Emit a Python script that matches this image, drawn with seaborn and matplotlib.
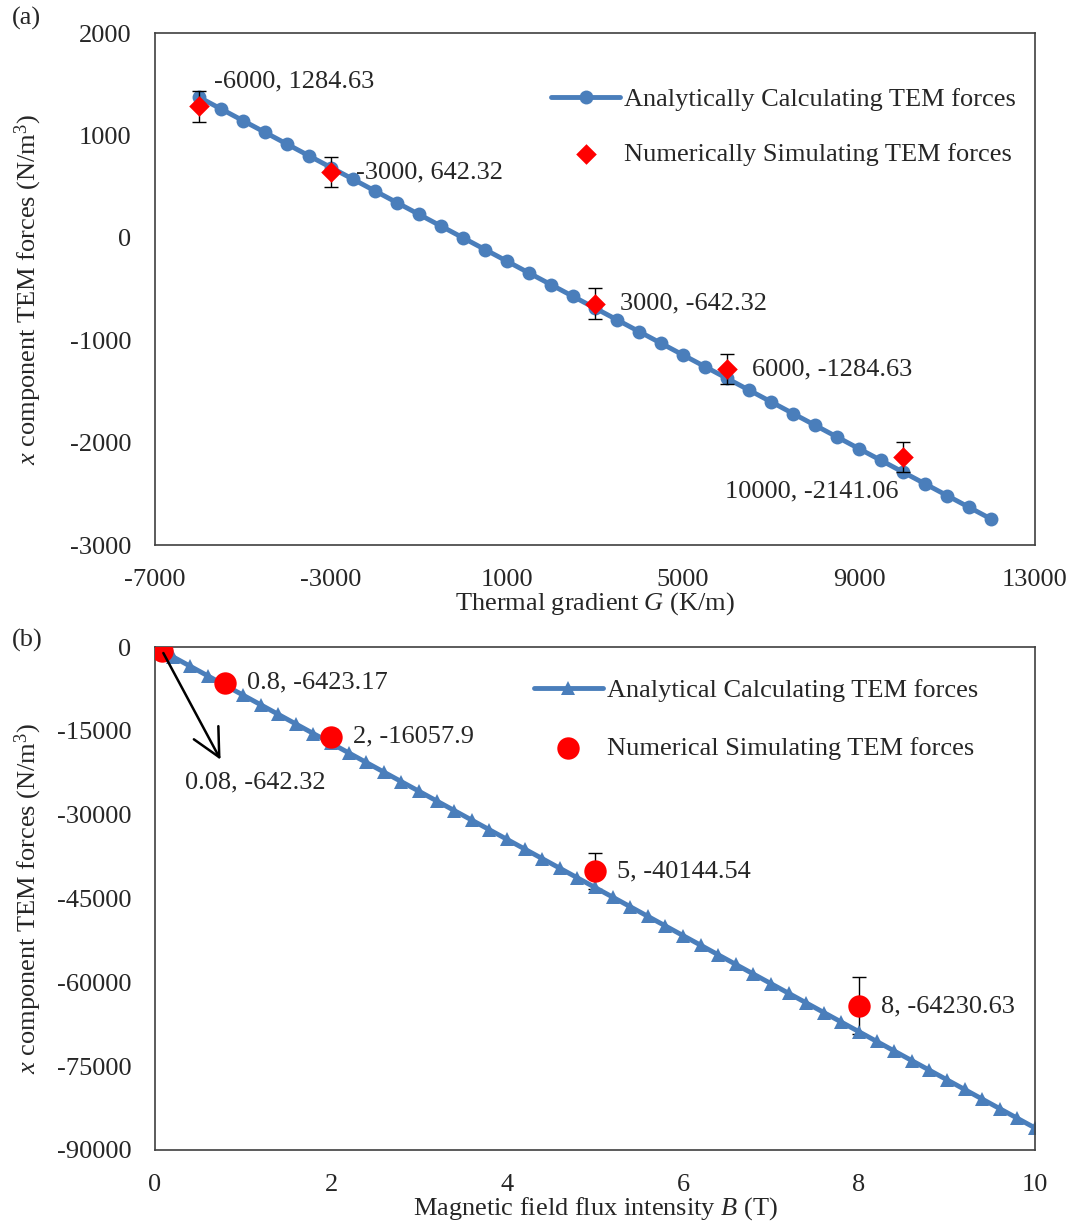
import matplotlib
matplotlib.use("Agg")
import matplotlib.pyplot as plt
import pandas as pd
import seaborn as sns

# panel (a): thermal gradient sweep
grad_analytic = [-6000, -5500, -5000, -4500, -4000, -3500, -3000, -2500, -2000, -1500,
                 -1000, -500, 0, 500, 1000, 1500, 2000, 2500, 3000, 3500, 4000, 4500,
                 5000, 5500, 6000, 6500, 7000, 7500, 8000, 8500, 9000, 9500, 10000,
                 10500, 11000, 11500, 12000]
force_a_analytic = [1372.8, 1258.4, 1144.0, 1029.6, 915.2, 800.8, 686.4, 572.0, 457.6,
                    343.2, 228.8, 114.4, 0.0, -114.4, -228.8, -343.2, -457.6, -572.0,
                    -686.4, -800.8, -915.2, -1029.6, -1144.0, -1258.4, -1372.8, -1487.2,
                    -1601.6, -1716.0, -1830.4, -1944.8, -2059.2, -2173.6, -2288.0,
                    -2402.4, -2516.8, -2631.2, -2745.6]
grad_numeric = [-6000, -3000, 3000, 6000, 10000]
force_a_numeric = [1284.63, 642.32, -642.32, -1284.63, -2141.06]
err_a = [150, 150, 150, 145, 145]
labels_a = ["-6000, 1284.63", "-3000, 642.32", "3000, -642.32", "6000, -1284.63",
            "10000, -2141.06"]

# panel (b): magnetic field sweep
field_analytic = [0.0, 0.2, 0.4, 0.6, 0.8, 1.0, 1.2, 1.4, 1.6, 1.8, 2.0, 2.2, 2.4, 2.6,
                  2.8, 3.0, 3.2, 3.4, 3.6, 3.8, 4.0, 4.2, 4.4, 4.6, 4.8, 5.0, 5.2, 5.4,
                  5.6, 5.8, 6.0, 6.2, 6.4, 6.6, 6.8, 7.0, 7.2, 7.4, 7.6, 7.8, 8.0, 8.2,
                  8.4, 8.6, 8.8, 9.0, 9.2, 9.4, 9.6, 9.8, 10.0]
force_b_analytic = [0, -1721, -3442, -5163, -6884, -8605, -10326, -12047, -13768, -15489,
                    -17210, -18931, -20652, -22373, -24094, -25815, -27536, -29257,
                    -30978, -32699, -34420, -36141, -37862, -39583, -41304, -43025,
                    -44746, -46467, -48188, -49909, -51630, -53351, -55072, -56793,
                    -58514, -60235, -61956, -63677, -65398, -67119, -68840, -70561,
                    -72282, -74003, -75724, -77445, -79166, -80887, -82608, -84329,
                    -86050]
field_numeric = [0.08, 0.8, 2, 5, 8]
force_b_numeric = [-642.32, -6423.17, -16057.9, -40144.54, -64230.63]
err_b = [50, 500, 1300, 3200, 5100]
labels_b = ["0.08, -642.32", "0.8, -6423.17", "2, -16057.9", "5, -40144.54",
            "8, -64230.63"]

BLUE = "#4A7EBB"
RED = "#FF0000"
EDGE = "#404040"

sns.set_theme(style="white")
plt.rcParams["font.family"] = ["Liberation Serif", "DejaVu Serif"]
plt.rcParams["mathtext.fontset"] = "custom"
plt.rcParams["mathtext.rm"] = "Liberation Serif"
plt.rcParams["mathtext.it"] = "Liberation Serif:italic"
plt.rcParams["axes.unicode_minus"] = False

FS = 19

fig = plt.figure(figsize=(10.7, 12.26), dpi=100)
ax_a = fig.add_axes([155 / 1070, 1 - 545 / 1226, 880 / 1070, 512 / 1226])
ax_b = fig.add_axes([155 / 1070, 1 - 1150 / 1226, 880 / 1070, 503 / 1226])

df_a = pd.DataFrame({"G": grad_analytic, "F": force_a_analytic})
df_an = pd.DataFrame({"G": grad_numeric, "F": force_a_numeric})
df_b = pd.DataFrame({"B": field_analytic, "F": force_b_analytic})
df_bn = pd.DataFrame({"B": field_numeric, "F": force_b_numeric})

# ---- panel (a)
sns.lineplot(data=df_a, x="G", y="F", ax=ax_a, color=BLUE, lw=3.5, marker="o",
             markersize=10, markeredgewidth=0, label="Analytically Calculating TEM forces",
             zorder=2)
ax_a.errorbar(grad_numeric, force_a_numeric, yerr=err_a, fmt="none", ecolor="black",
              elinewidth=1, capsize=5, capthick=1, zorder=3)
sns.scatterplot(data=df_an, x="G", y="F", ax=ax_a, color=RED, marker="D", s=110,
                linewidth=0, label="Numerically Simulating TEM forces", zorder=4)

offsets_a = [(15, 25, "left"), (25, 0, "left"), (25, 0, "left"), (25, 0, "left"),
             (-5, -34, "right")]
for x, y, txt, (dx, dy, ha) in zip(grad_numeric, force_a_numeric, labels_a, offsets_a):
    ax_a.annotate(txt, (x, y), xytext=(dx, dy), textcoords="offset pixels",
                  ha=ha, va="center", fontsize=FS)

ax_a.set_xlim(-7000, 13000)
ax_a.set_ylim(-3000, 2000)
ax_a.set_xticks([-7000, -3000, 1000, 5000, 9000, 13000])
ax_a.set_yticks([-3000, -2000, -1000, 0, 1000, 2000])
ax_a.set_xlabel("Thermal gradient $G$ (K/m)", fontsize=FS, labelpad=0)
ax_a.set_ylabel("$x$ component TEM forces (N/m$^3$)", fontsize=FS)
ax_a.legend(loc="upper right", bbox_to_anchor=(1.005, 0.94), frameon=False,
            fontsize=FS, labelspacing=1.2, handlelength=2.6, handletextpad=0.15)

# ---- panel (b)
sns.lineplot(data=df_b, x="B", y="F", ax=ax_b, color=BLUE, lw=3.5, marker="^",
             markersize=10, markeredgewidth=0, label="Analytical Calculating TEM forces",
             zorder=2)
ax_b.errorbar(field_numeric, force_b_numeric, yerr=err_b, fmt="none", ecolor="black",
              elinewidth=1, capsize=5, capthick=1, zorder=1)
sns.scatterplot(data=df_bn, x="B", y="F", ax=ax_b, color=RED, marker="o", s=260,
                linewidth=0, label="Numerical Simulating TEM forces", zorder=4)

for x, y, txt in list(zip(field_numeric, force_b_numeric, labels_b))[1:]:
    ax_b.annotate(txt, (x, y), xytext=(22, 0), textcoords="offset pixels",
                  ha="left", va="center", fontsize=FS)
ax_b.annotate("", xy=(0.76, -20600), xytext=(field_numeric[0], force_b_numeric[0]),
              arrowprops=dict(arrowstyle="->", color="black", lw=1.8,
                              mutation_scale=50), zorder=5)
ax_b.text(1.14, -24150, labels_b[0], ha="center", va="center", fontsize=FS)

ax_b.set_xlim(0, 10)
ax_b.set_ylim(-90000, 0)
ax_b.set_xticks([0, 2, 4, 6, 8, 10])
ax_b.set_yticks([-90000, -75000, -60000, -45000, -30000, -15000, 0])
ax_b.set_xlabel("Magnetic field flux intensity $B$ (T)", fontsize=FS, labelpad=0)
ax_b.set_ylabel("$x$ component TEM forces (N/m$^3$)", fontsize=FS)
ax_b.legend(loc="upper right", bbox_to_anchor=(0.962, 0.985), frameon=False,
            fontsize=FS, labelspacing=1.3, handlelength=2.6, handletextpad=0.15)

for ax in (ax_a, ax_b):
    ax.tick_params(labelsize=FS, length=0, pad=17)
    for sp in ax.spines.values():
        sp.set_color(EDGE)
        sp.set_linewidth(1.2)
    ax.grid(False)
    ax.yaxis.set_label_coords(-0.126, 0.5)

fig.text(12 / 1070, 1 - 18 / 1226, "(a)", fontsize=FS, va="center", ha="left")
fig.text(12 / 1070, 1 - 640 / 1226, "(b)", fontsize=FS, va="center", ha="left")

fig.savefig("out.png", dpi=100)
